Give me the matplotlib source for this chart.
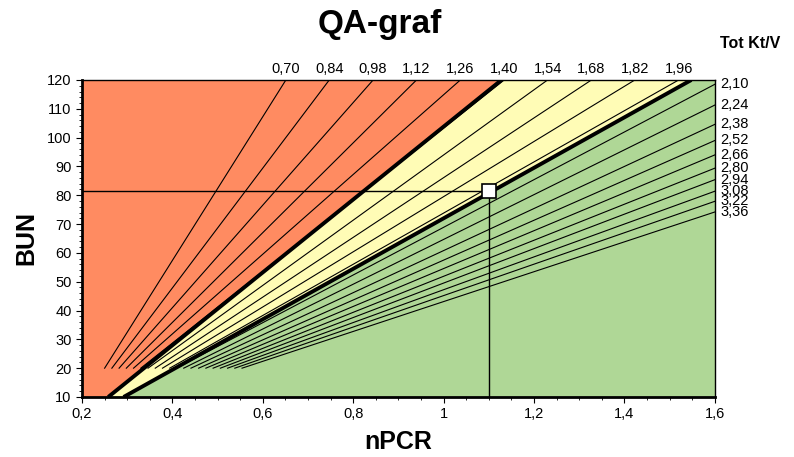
import numpy as np
import matplotlib
matplotlib.use("Agg")
from matplotlib import pyplot as plt
from matplotlib.ticker import MultipleLocator, FuncFormatter

plt.rcParams["font.family"] = ["Liberation Sans", "DejaVu Sans"]

# Kt/V lines ending on the top edge (BUN = 120)
top_ktv = ["0,70", "0,84", "0,98", "1,12", "1,26", "1,40", "1,54", "1,68", "1,82", "1,96"]
top_start_npcr = [0.250, 0.266, 0.282, 0.298, 0.314, 0.330, 0.346, 0.362, 0.378, 0.394]
top_end_npcr = [0.651, 0.747, 0.844, 0.940, 1.037, 1.134, 1.230, 1.327, 1.423, 1.520]

# Kt/V lines ending on the right edge (nPCR = 1.6)
right_ktv = ["2,10", "2,24", "2,38", "2,52", "2,66", "2,80", "2,94", "3,08", "3,22", "3,36"]
right_start_npcr = [0.409, 0.425, 0.441, 0.458, 0.474, 0.490, 0.506, 0.522, 0.538, 0.554]
right_end_bun = [118.5, 111.3, 104.6, 99.0, 94.0, 89.4, 85.4, 81.4, 77.9, 74.2]

start_bun = 20

# zone boundaries (nPCR at BUN 10 and BUN 120)
bun_ends = [10, 120]
red_yellow = [0.258, 1.128]
yellow_green = [0.292, 1.548]

# patient point
pt_npcr = 1.1
pt_bun = 81.5

red = "#FF8B61"
yellow = "#FFFCB6"
green = "#AFD796"

fig = plt.figure(figsize=(7.94, 4.57), dpi=100)
ax = fig.add_axes([0.1033, 0.1313, 0.797, 0.6937])
ax.set_xlim(0.2, 1.6)
ax.set_ylim(10, 120)

b = np.linspace(10, 120, 200)
x1 = np.interp(b, bun_ends, red_yellow)
x2 = np.interp(b, bun_ends, yellow_green)
ax.fill_betweenx(b, 0.2, x1, color=red, lw=0, zorder=0)
ax.fill_betweenx(b, x1, x2, color=yellow, lw=0, zorder=0)
ax.fill_betweenx(b, x2, 1.6, color=green, lw=0, zorder=0)

for lab, x0, x1e in zip(top_ktv, top_start_npcr, top_end_npcr):
    ax.plot([x0, x1e], [start_bun, 120], c="k", lw=0.8, zorder=2)
    ax.annotate(lab, (x1e, 120), xytext=(0, 3), textcoords="offset points",
                ha="center", va="bottom", fontsize=10.5, annotation_clip=False)

for lab, x0, y1 in zip(right_ktv, right_start_npcr, right_end_bun):
    ax.plot([x0, 1.6], [start_bun, y1], c="k", lw=0.8, zorder=2)
    ax.annotate(lab, (1.6, y1), xytext=(4, 0), textcoords="offset points",
                ha="left", va="center", fontsize=10.5, annotation_clip=False)

ax.plot(red_yellow, bun_ends, c="k", lw=2.8, zorder=3, solid_capstyle="butt")
ax.plot(yellow_green, bun_ends, c="k", lw=2.8, zorder=3, solid_capstyle="butt")

ax.plot([0.2, pt_npcr], [pt_bun, pt_bun], c="k", lw=1, zorder=4)
ax.plot([pt_npcr, pt_npcr], [10, pt_bun], c="k", lw=1, zorder=4)
ax.plot(pt_npcr, pt_bun, marker="s", ms=10, mfc="white", mec="k", mew=1.2, zorder=5)

ax.xaxis.set_major_locator(MultipleLocator(0.2))
ax.xaxis.set_minor_locator(MultipleLocator(0.05))
ax.yaxis.set_major_locator(MultipleLocator(10))
ax.yaxis.set_minor_locator(MultipleLocator(2))
ax.xaxis.set_major_formatter(FuncFormatter(lambda v, p: f"{v:g}".replace(".", ",")))
ax.tick_params(which="major", length=4, labelsize=10.5, colors="k")
ax.tick_params(which="minor", length=2)

for s in ["left", "bottom"]:
    ax.spines[s].set_linewidth(2)
for s in ["top", "right"]:
    ax.spines[s].set_linewidth(1)

ax.set_xlabel("nPCR", fontsize=18, fontweight="bold", labelpad=6)
ax.set_ylabel("BUN", fontsize=18, fontweight="bold", labelpad=6)
fig.text(380 / 794, 1 - 24 / 457, "QA-graf", ha="center", va="center",
         fontsize=24, fontweight="bold")
fig.text(720 / 794, 1 - 43 / 457, "Tot Kt/V", ha="left", va="center",
         fontsize=11.5, fontweight="bold")

fig.savefig("out.png", dpi=100)
